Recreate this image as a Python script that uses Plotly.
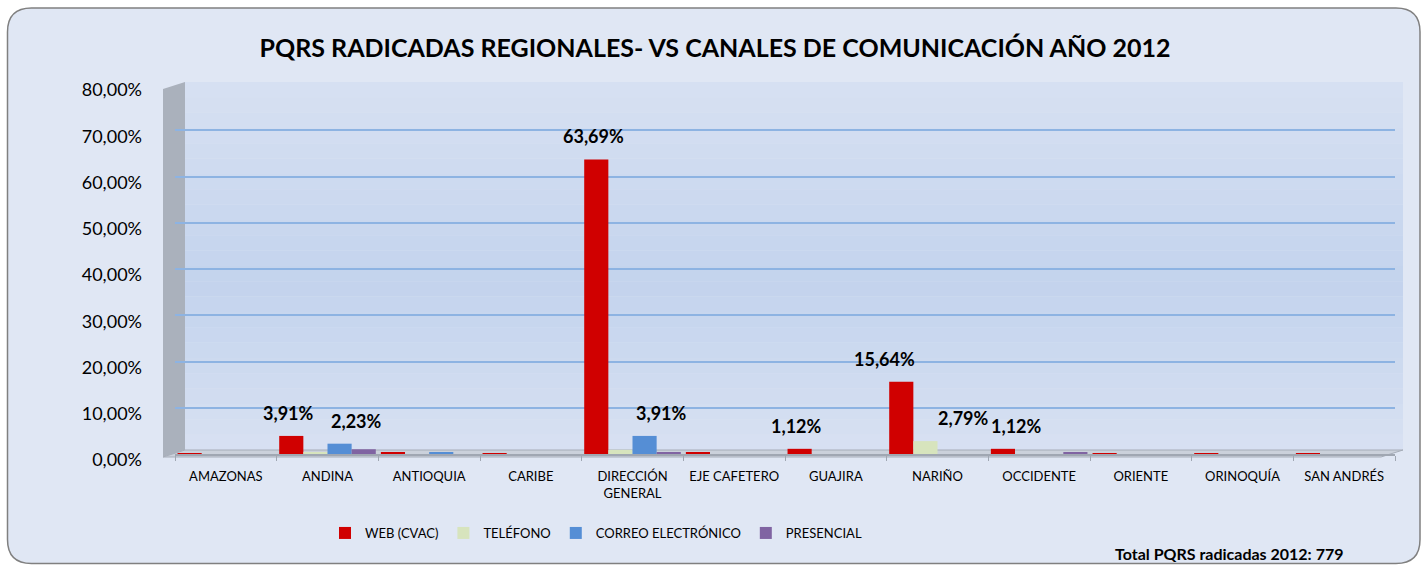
import plotly.graph_objects as go

categories = ["AMAZONAS", "ANDINA", "ANTIOQUIA", "CARIBE", "DIRECCIÓN<br>GENERAL",
              "EJE CAFETERO", "GUAJIRA", "NARIÑO", "OCCIDENTE", "ORIENTE",
              "ORINOQUÍA", "SAN ANDRÉS"]
series_names = ["WEB (CVAC)", "TELÉFONO", "CORREO ELECTRÓNICO", "PRESENCIAL"]
web = [0.13, 3.91, 0.39, 0.13, 63.69, 0.39, 1.12, 15.64, 1.12, 0.13, 0.13, 0.13]
telefono = [0.0, 0.26, 0.0, 0.0, 0.90, 0.0, 0.0, 2.79, 0.0, 0.0, 0.0, 0.0]
correo = [0.0, 2.23, 0.39, 0.0, 3.91, 0.0, 0.0, 0.0, 0.0, 0.0, 0.0, 0.0]
presencial = [0.0, 1.03, 0.0, 0.0, 0.39, 0.0, 0.0, 0.0, 0.39, 0.0, 0.0, 0.0]
web_labels = ["", "3,91%", "", "", "63,69%", "", "1,12%", "15,64%", "1,12%", "", "", ""]
telefono_labels = ["", "", "", "", "", "", "", "2,79%", "", "", "", ""]
correo_labels = ["", "2,23%", "", "", "3,91%", "", "", "", "", "", "", ""]
presencial_labels = [""] * 12
y_ticks = [0, 10, 20, 30, 40, 50, 60, 70, 80]
y_tick_text = ["0,00%", "10,00%", "20,00%", "30,00%", "40,00%", "50,00%", "60,00%", "70,00%", "80,00%"]
total_text = "Total PQRS radicadas 2012: 779"

colors = ["#d00000", "#d7e4bd", "#558ed5", "#8064a2"]
# styling: horizontal nudge of value labels (px), per series and a few per-label tweaks
label_nudge = [-3, 38, 17, 0]
label_nudge_extra = {(0, "NARIÑO"): -14, (0, "OCCIDENTE"): 17}
FONT = "Lato"

W, H = 1422, 566
L, R, T, B = 163, 27, 84, 112
pw, ph = W - L - R, H - T - B


def px(sx):
    return (sx - L) / pw


def py(sy):
    return (H - B - sy) / ph


fig = go.Figure()
series = [web, telefono, correo, presencial]
labels = [web_labels, telefono_labels, correo_labels, presencial_labels]
for name, vals, col in zip(series_names, series, colors):
    fig.add_trace(go.Bar(
        x=categories, y=vals, name=name, xaxis="x", yaxis="y",
        marker=dict(color=col, line=dict(width=0)), hoverinfo="x+y",
    ))
# category axis carrier (front plane)
fig.add_trace(go.Scatter(x=list(range(len(categories))), y=[None] * len(categories),
                         xaxis="x2", yaxis="y", showlegend=False, hoverinfo="skip"))

x_dom = [px(175), 1.0]
bar_px = (pw * (x_dom[1] - x_dom[0])) / len(categories) * 0.95 / 4

annotations = []
for i, (vals, labs) in enumerate(zip(series, labels)):
    for c, v, t in zip(categories, vals, labs):
        if t:
            annotations.append(dict(x=c, y=v, xref="x", yref="y", text=f"<b>{t}</b>",
                                    showarrow=False,
                                    xshift=(i - 1.5) * bar_px + label_nudge[i] + label_nudge_extra.get((i, c), 0),
                                    yshift=23,
                                    font=dict(family=FONT, size=18, color="#000000")))
annotations.append(dict(text=f"<b>{total_text}</b>", xref="paper", yref="paper",
                        x=px(1345), y=py(553), xanchor="right", yanchor="middle", showarrow=False,
                        font=dict(family=FONT, size=16, color="#000000")))

# outer rounded frame
x0, x1, y0, y1, r = px(7.5), px(1420), py(8), py(563.5), 24
rx, ry = r / pw, r / ph
frame = (f"M {x0+rx},{y0} L {x1-rx},{y0} Q {x1},{y0} {x1},{y0-ry} "
         f"L {x1},{y1+ry} Q {x1},{y1} {x1-rx},{y1} L {x0+rx},{y1} Q {x0},{y1} {x0},{y1+ry} "
         f"L {x0},{y0-ry} Q {x0},{y0} {x0+rx},{y0} Z")
shapes = [dict(type="path", path=frame, xref="paper", yref="paper",
               fillcolor="#e0e7f4", line=dict(color="#808080", width=1.5), layer="below")]


def mix(c1, c2, t):
    a = [int(c1[k:k + 2], 16) for k in (1, 3, 5)]
    b = [int(c2[k:k + 2], 16) for k in (1, 3, 5)]
    return "#" + "".join(f"{round(a[j] + (b[j] - a[j]) * t):02x}" for j in range(3))


# back wall gradient (top light, middle darker, bottom light)
n = 24
wx0, wx1, wy_top, wy_bot = px(185), px(1403), py(82), py(450)
for k in range(n):
    t0, t1 = k / n, (k + 1) / n
    tm = (t0 + t1) / 2
    col = mix("#d7e1f2", "#c3d3ed", tm / 0.55) if tm < 0.55 else mix("#c3d3ed", "#d8e1f2", (tm - 0.55) / 0.45)
    shapes.append(dict(type="rect", xref="paper", yref="paper", layer="below",
                       x0=wx0, x1=wx1, y0=wy_top + (wy_bot - wy_top) * t0,
                       y1=wy_top + (wy_bot - wy_top) * t1 - 0.0005,
                       fillcolor=col, line=dict(width=0)))
# left wall
shapes.append(dict(type="path", xref="paper", yref="paper", layer="below",
                   path=f"M {px(163)},{py(89)} L {px(185)},{py(82)} L {px(185)},{py(450)} L {px(163)},{py(457)} Z",
                   fillcolor="#aab1bc", line=dict(width=0)))
# floor
shapes.append(dict(type="path", xref="paper", yref="paper", layer="below",
                   path=f"M {px(163)},{py(457)} L {px(185)},{py(450)} L {px(1403)},{py(450)} L {px(1381)},{py(457)} Z",
                   fillcolor="#cbd1db", line=dict(color="#a6adb8", width=1)))

fig.update_layout(
    width=W, height=H,
    margin=dict(l=L, r=R, t=T, b=B),
    paper_bgcolor="#ffffff",
    plot_bgcolor="rgba(0,0,0,0)",
    barmode="group", bargap=0.05, bargroupgap=0.0,
    shapes=shapes,
    annotations=annotations,
    title=dict(text="<b>PQRS RADICADAS REGIONALES- VS CANALES DE COMUNICACIÓN AÑO 2012</b>",
               x=715 / W, xref="container", xanchor="center", y=1 - 48 / H, yref="container",
               yanchor="middle", font=dict(family=FONT, size=25, color="#000000")),
    font=dict(family=FONT, color="#000000"),
    showlegend=True,
    legend=dict(orientation="h", x=px(596), xanchor="center", y=py(533), yanchor="middle",
                font=dict(family=FONT, size=13, color="#000000"), bgcolor="rgba(0,0,0,0)",
                itemwidth=30, traceorder="normal"),
    xaxis=dict(domain=x_dom, showgrid=False, showticklabels=False, showline=False,
               zeroline=False, fixedrange=True, anchor="y"),
    xaxis2=dict(domain=[0, px(1381)], overlaying="x", anchor="y", range=[-0.5, 11.5],
                tickvals=list(range(len(categories))), ticktext=categories,
                tickfont=dict(family=FONT, size=13, color="#000000"),
                showgrid=False, zeroline=False, showline=True, linecolor="#a0a7b2", linewidth=1.5,
                ticks="", ticklabelstandoff=10, fixedrange=True,
                minor=dict(tick0=0.5, dtick=1, ticks="outside", ticklen=5, tickcolor="#a0a7b2",
                           showgrid=False)),
    yaxis=dict(range=[0, 80], tickvals=y_ticks, ticktext=y_tick_text, anchor="x",
               showgrid=True, gridcolor="#8db3e2", gridwidth=2, zeroline=False,
               tickfont=dict(family=FONT, size=18, color="#000000"),
               ticklabelstandoff=32, ticklabelshift=6, fixedrange=True),
)

fig.write_html("out.html", config={"displayModeBar": False},
               post_script="document.body.style.margin='0';document.body.style.overflow='hidden';")
